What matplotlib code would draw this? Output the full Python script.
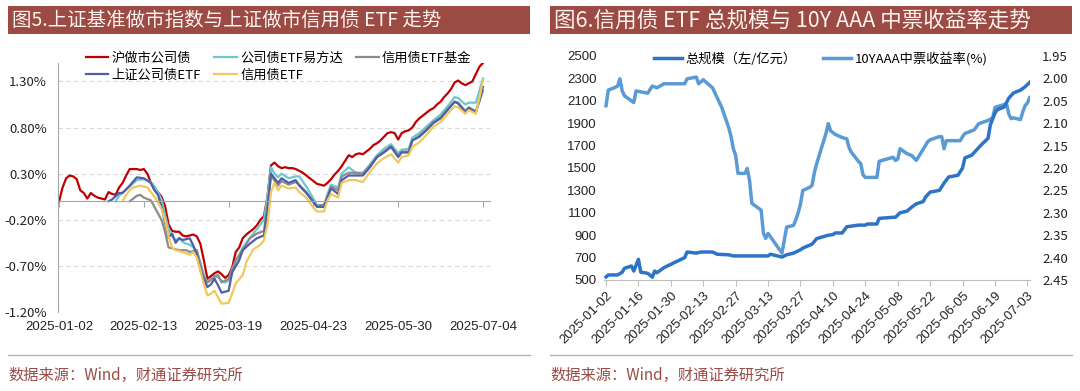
import numpy as np
import pandas as pd
import matplotlib
matplotlib.use('Agg')
import matplotlib.pyplot as plt
import matplotlib.transforms as mtransforms
from matplotlib.patches import Rectangle
from matplotlib.lines import Line2D

plt.rcParams['font.family'] = ['Noto Sans CJK SC', 'DejaVu Sans']

# ---------- 左图：上证基准做市指数与上证做市信用债ETF（交易日序号, 累计涨跌%） ----------
x_tick_pos = [0, 24, 48, 72, 96, 120]
x_tick_labels = ['2025-01-02', '2025-02-13', '2025-03-19', '2025-04-23', '2025-05-30', '2025-07-04']

red_pts = [(0, 0), (1, 0.15), (2, 0.25), (3, 0.28), (4, 0.27), (5, 0.24), (6, 0.12), (7, 0.09), (8, 0.03),
           (9, 0.09), (10, 0.06), (11, 0.04), (12, 0.03), (13, 0.02), (14, 0.1), (15, 0.08), (16, 0.07),
           (17, 0.15), (18, 0.2), (19, 0.28), (20, 0.35), (21, 0.35), (22, 0.35), (23, 0.34), (24, 0.35),
           (25, 0.3), (26, 0.2), (27, 0.13), (28, 0.1), (29, 0.05), (30, -0.05), (31, -0.25), (32, -0.32),
           (33, -0.33), (34, -0.33), (35, -0.37), (36, -0.38), (37, -0.37), (38, -0.36), (39, -0.38),
           (40, -0.46), (41, -0.64), (42, -0.84), (43, -0.81), (44, -0.78), (45, -0.76), (46, -0.79),
           (47, -0.83), (48, -0.8), (49, -0.72), (50, -0.55), (51, -0.5), (52, -0.4), (53, -0.36),
           (54, -0.33), (55, -0.3), (56, -0.26), (57, -0.2), (58, -0.16), (59, 0.05), (60, 0.39),
           (61, 0.42), (62, 0.38), (63, 0.36), (64, 0.37), (65, 0.36), (66, 0.36), (67, 0.35), (68, 0.33),
           (69, 0.31), (70, 0.28), (71, 0.25), (72, 0.22), (73, 0.19), (74, 0.18), (75, 0.17), (76, 0.2),
           (77, 0.24), (78, 0.29), (79, 0.33), (80, 0.38), (81, 0.44), (82, 0.5), (83, 0.48), (84, 0.51),
           (85, 0.52), (86, 0.51), (87, 0.54), (88, 0.57), (89, 0.61), (90, 0.63), (91, 0.66), (92, 0.7),
           (93, 0.74), (94, 0.75), (95, 0.74), (96, 0.67), (97, 0.74), (98, 0.76), (99, 0.77), (100, 0.8),
           (101, 0.86), (102, 0.9), (103, 0.93), (104, 0.96), (105, 0.99), (106, 1.01), (107, 1.05),
           (108, 1.08), (109, 1.13), (110, 1.17), (111, 1.22), (112, 1.29), (113, 1.31), (114, 1.28),
           (115, 1.26), (116, 1.28), (117, 1.3), (118, 1.38), (119, 1.46), (120, 1.5)]

cyan_pts = [(16, 0), (17, 0.06), (18, 0.1), (20, 0.16), (22, 0.23), (24, 0.24), (26, 0.21), (27, 0.16),
            (28, 0.1), (29, 0.02), (30, -0.15), (31, -0.3), (32, -0.38), (33, -0.42), (34, -0.4),
            (35, -0.44), (36, -0.46), (37, -0.47), (38, -0.5), (39, -0.55), (40, -0.66), (41, -0.8),
            (42, -0.88), (44, -0.83), (45, -0.82), (46, -0.86), (47, -0.88), (48, -0.86), (49, -0.78),
            (50, -0.66), (51, -0.58), (52, -0.5), (54, -0.4), (56, -0.3), (58, -0.2), (59, 0.05),
            (60, 0.37), (61, 0.3), (62, 0.26), (63, 0.3), (65, 0.25), (67, 0.27), (68, 0.27), (70, 0.16),
            (72, 0.03), (73, -0.04), (75, -0.04), (76, 0.08), (77, 0.18), (79, 0.15), (80, 0.3),
            (82, 0.37), (84, 0.31), (86, 0.31), (88, 0.4), (90, 0.5), (92, 0.57), (94, 0.62), (96, 0.52),
            (97, 0.56), (99, 0.57), (100, 0.69), (102, 0.74), (104, 0.81), (106, 0.88), (108, 0.94),
            (110, 1.03), (112, 1.13), (113, 1.12), (115, 1.05), (116, 1.07), (118, 1.07), (119, 1.2),
            (120, 1.33)]

gray_pts = [(20, 0), (21, 0.03), (22, 0.06), (23, 0.07), (24, 0.04), (26, 0.01), (27, -0.06), (28, -0.13),
            (29, -0.2), (30, -0.33), (31, -0.5), (32, -0.51), (34, -0.53), (36, -0.53), (37, -0.55),
            (39, -0.53), (40, -0.68), (41, -0.83), (42, -0.88), (44, -0.81), (45, -0.8), (46, -0.88),
            (48, -0.84), (49, -0.73), (50, -0.64), (52, -0.53), (54, -0.4), (56, -0.35), (58, -0.32),
            (59, -0.05), (60, 0.28), (62, 0.17), (63, 0.22), (65, 0.18), (67, 0.21), (68, 0.18), (70, 0.1),
            (72, 0.0), (73, -0.05), (75, -0.04), (76, 0.05), (77, 0.16), (79, 0.12), (80, 0.27), (82, 0.31),
            (84, 0.31), (86, 0.3), (88, 0.38), (90, 0.48), (92, 0.54), (94, 0.6), (96, 0.5), (97, 0.54),
            (99, 0.54), (100, 0.66), (102, 0.71), (104, 0.78), (106, 0.86), (108, 0.91), (110, 1.0),
            (112, 1.08), (113, 1.07), (115, 0.98), (116, 1.02), (118, 0.97), (119, 1.08), (120, 1.2)]

blue_pts = [(14, 0), (15, 0.02), (17, 0.09), (18, 0.09), (20, 0.17), (22, 0.26), (24, 0.25), (26, 0.2),
            (27, 0.12), (28, 0.07), (29, -0.06), (30, -0.23), (31, -0.39), (32, -0.35), (33, -0.45),
            (34, -0.4), (35, -0.42), (37, -0.4), (38, -0.48), (39, -0.57), (40, -0.75), (42, -0.93),
            (43, -0.9), (44, -0.84), (45, -0.91), (46, -0.99), (48, -0.97), (49, -0.77), (51, -0.64),
            (52, -0.53), (54, -0.46), (56, -0.4), (58, -0.37), (59, -0.1), (60, 0.3), (62, 0.2), (63, 0.25),
            (65, 0.2), (67, 0.23), (68, 0.17), (70, 0.09), (72, -0.01), (73, -0.06), (75, -0.06), (76, 0.04),
            (77, 0.14), (79, 0.08), (80, 0.23), (82, 0.28), (84, 0.28), (86, 0.28), (88, 0.37), (90, 0.48),
            (92, 0.53), (94, 0.59), (96, 0.48), (97, 0.53), (99, 0.53), (100, 0.66), (102, 0.7), (104, 0.77),
            (106, 0.85), (108, 0.9), (110, 0.99), (112, 1.08), (113, 1.06), (115, 0.97), (116, 1.01),
            (118, 0.97), (119, 1.1), (120, 1.24)]

yellow_pts = [(18, 0), (19, 0.07), (20, 0.12), (21, 0.15), (23, 0.17), (25, 0.15), (26, 0.1), (27, 0.05),
              (28, -0.01), (29, -0.08), (30, -0.2), (31, -0.38), (32, -0.5), (33, -0.53), (35, -0.55),
              (37, -0.58), (38, -0.55), (39, -0.61), (40, -0.75), (41, -0.9), (42, -1.02), (43, -1.0),
              (44, -0.97), (45, -1.04), (46, -1.11), (48, -1.1), (49, -1.0), (50, -0.89), (52, -0.8),
              (53, -0.66), (55, -0.52), (57, -0.47), (58, -0.42), (59, -0.25), (60, 0.1), (61, 0.2),
              (62, 0.12), (63, 0.17), (65, 0.14), (67, 0.15), (68, 0.1), (70, 0.04), (72, -0.07),
              (73, -0.11), (75, -0.11), (76, 0.01), (77, 0.08), (79, 0.04), (80, 0.2), (82, 0.23), (84, 0.23),
              (86, 0.21), (88, 0.32), (90, 0.41), (92, 0.47), (94, 0.51), (96, 0.42), (97, 0.48), (99, 0.5),
              (100, 0.59), (102, 0.64), (104, 0.72), (106, 0.81), (108, 0.86), (110, 0.95), (112, 1.03),
              (113, 1.02), (115, 0.95), (116, 0.99), (118, 0.95), (119, 1.12), (120, 1.31)]

left_y_ticks = [-1.2, -0.7, -0.2, 0.3, 0.8, 1.3]

# ---------- 右图：信用债ETF总规模（亿元）与10Y AAA中票收益率（%） ----------
scale_pts = [('2025-01-02', 527), ('2025-01-03', 545), ('2025-01-07', 545), ('2025-01-09', 570),
             ('2025-01-10', 605), ('2025-01-13', 625), ('2025-01-14', 580), ('2025-01-16', 685),
             ('2025-01-17', 570), ('2025-01-20', 560), ('2025-01-22', 525), ('2025-01-23', 580),
             ('2025-01-24', 565), ('2025-01-27', 610), ('2025-02-05', 700), ('2025-02-06', 750),
             ('2025-02-10', 740), ('2025-02-12', 750), ('2025-02-17', 750), ('2025-02-19', 730),
             ('2025-02-24', 725), ('2025-02-26', 715), ('2025-03-13', 715), ('2025-03-14', 730),
             ('2025-03-19', 705), ('2025-03-21', 725), ('2025-03-24', 740), ('2025-03-27', 770),
             ('2025-03-28', 785), ('2025-04-01', 820), ('2025-04-03', 870), ('2025-04-08', 900),
             ('2025-04-10', 905), ('2025-04-11', 920), ('2025-04-14', 920), ('2025-04-16', 975),
             ('2025-04-21', 990), ('2025-04-24', 990), ('2025-04-25', 1000), ('2025-04-29', 1000),
             ('2025-04-30', 1050), ('2025-05-06', 1060), ('2025-05-07', 1060), ('2025-05-09', 1100),
             ('2025-05-12', 1115), ('2025-05-14', 1150), ('2025-05-16', 1180), ('2025-05-19', 1200),
             ('2025-05-20', 1240), ('2025-05-22', 1285), ('2025-05-26', 1300), ('2025-05-28', 1365),
             ('2025-05-30', 1420), ('2025-06-03', 1435), ('2025-06-05', 1500), ('2025-06-06', 1590),
             ('2025-06-09', 1615), ('2025-06-11', 1660), ('2025-06-13', 1705), ('2025-06-16', 1765),
             ('2025-06-17', 1885), ('2025-06-19', 1990), ('2025-06-20', 2020), ('2025-06-23', 2045),
             ('2025-06-25', 2125), ('2025-06-27', 2170), ('2025-06-30', 2195), ('2025-07-02', 2225),
             ('2025-07-04', 2265)]

yield_pts = [('2025-01-02', 2.061), ('2025-01-03', 2.026), ('2025-01-06', 2.02), ('2025-01-07', 2.017),
             ('2025-01-08', 2.001), ('2025-01-09', 2.028), ('2025-01-10', 2.039), ('2025-01-13', 2.05),
             ('2025-01-14', 2.054), ('2025-01-15', 2.028), ('2025-01-17', 2.03), ('2025-01-20', 2.033),
             ('2025-01-22', 2.017), ('2025-01-24', 2.021), ('2025-01-27', 2.012), ('2025-02-05', 2.012),
             ('2025-02-06', 2.001), ('2025-02-10', 1.997), ('2025-02-11', 2.012), ('2025-02-13', 2.003),
             ('2025-02-17', 2.021), ('2025-02-19', 2.043), ('2025-02-21', 2.065), ('2025-02-24', 2.11),
             ('2025-02-25', 2.13), ('2025-02-26', 2.157), ('2025-02-27', 2.172), ('2025-02-28', 2.212),
             ('2025-03-03', 2.212), ('2025-03-04', 2.201), ('2025-03-05', 2.228), ('2025-03-06', 2.279),
             ('2025-03-10', 2.294), ('2025-03-11', 2.346), ('2025-03-12', 2.357), ('2025-03-13', 2.346),
             ('2025-03-19', 2.39), ('2025-03-21', 2.332), ('2025-03-24', 2.328), ('2025-03-25', 2.315),
             ('2025-03-26', 2.3), ('2025-03-27', 2.28), ('2025-03-28', 2.25), ('2025-03-31', 2.243),
             ('2025-04-01', 2.239), ('2025-04-02', 2.21), ('2025-04-03', 2.19), ('2025-04-07', 2.123),
             ('2025-04-08', 2.101), ('2025-04-09', 2.117), ('2025-04-10', 2.121), ('2025-04-11', 2.125),
             ('2025-04-14', 2.132), ('2025-04-16', 2.135), ('2025-04-17', 2.155), ('2025-04-18', 2.165),
             ('2025-04-21', 2.185), ('2025-04-22', 2.19), ('2025-04-23', 2.215), ('2025-04-24', 2.221),
             ('2025-04-29', 2.221), ('2025-04-30', 2.185), ('2025-05-06', 2.176), ('2025-05-07', 2.183),
             ('2025-05-08', 2.18), ('2025-05-09', 2.157), ('2025-05-12', 2.168), ('2025-05-14', 2.172),
             ('2025-05-16', 2.183), ('2025-05-19', 2.158), ('2025-05-21', 2.141), ('2025-05-22', 2.137),
             ('2025-05-26', 2.13), ('2025-05-27', 2.13), ('2025-05-28', 2.157), ('2025-05-29', 2.139),
             ('2025-06-04', 2.139), ('2025-06-05', 2.13), ('2025-06-06', 2.123), ('2025-06-10', 2.115),
             ('2025-06-12', 2.101), ('2025-06-16', 2.094), ('2025-06-18', 2.088), ('2025-06-19', 2.065),
             ('2025-06-20', 2.063), ('2025-06-24', 2.057), ('2025-06-25', 2.08), ('2025-06-26', 2.09),
             ('2025-06-27', 2.088), ('2025-06-30', 2.092), ('2025-07-01', 2.075), ('2025-07-02', 2.061),
             ('2025-07-03', 2.055), ('2025-07-04', 2.043)]

scale_ticks = list(range(500, 2501, 200))
yield_ticks = [1.95, 2.00, 2.05, 2.10, 2.15, 2.20, 2.25, 2.30, 2.35, 2.40, 2.45]

BAR = '#9B4A44'
W, H = 1080, 391


def fx(px):
    return px / W


def fy(py):
    return 1 - py / H


fig = plt.figure(figsize=(10.8, 3.91), dpi=100)

# 标题栏与脚注
for x0, x1, title, fs in [(8, 530, '图5.上证基准做市指数与上证做市信用债 ETF 走势', 14.0),
                          (550, 1072, '图6.信用债 ETF 总规模与 10Y AAA 中票收益率走势', 15.5)]:
    fig.add_artist(Rectangle((fx(x0), fy(34)), (x1 - x0) / W, 28 / H, transform=fig.transFigure,
                             facecolor=BAR, edgecolor='none'))
    fig.text(fx(x0 + 4), fy(20.5), title, color='#FFF4F0', fontsize=fs, va='center', ha='left')
    fig.add_artist(Line2D([fx(x0), fx(x1)], [fy(355), fy(355)], transform=fig.transFigure,
                          color='#CFA09C', lw=0.9))
    fig.text(fx(x0), fy(375), '数据来源：Wind，财通证券研究所', color=BAR, fontsize=11,
             va='center', ha='left')

# ---------- 左图 ----------
ax1 = fig.add_axes([fx(58), fy(312), 432 / W, 249 / H])
series = [('沪做市公司债', red_pts, '#C00000'),
          ('公司债ETF易方达', cyan_pts, '#6CC8CC'),
          ('信用债ETF基金', gray_pts, '#8C8C8C'),
          ('上证公司债ETF', blue_pts, '#4F5FA3'),
          ('信用债ETF', yellow_pts, '#F2C75C')]
handles = {}
for name, pts, col in series:
    xs, ys = zip(*pts)
    handles[name], = ax1.plot(xs, ys, color=col, lw=1.6, label=name, solid_joinstyle='round')

ax1.set_xlim(-0.3, 122)
ax1.set_ylim(-1.2, 1.5)
ax1.set_yticks(left_y_ticks)
ax1.set_yticklabels([f'{v:.2f}%' for v in left_y_ticks])
ax1.yaxis.grid(True, ls=(0, (4, 3)), color='#D9D9D9', lw=0.8)
ax1.set_axisbelow(True)
for s in ['top', 'right']:
    ax1.spines[s].set_visible(False)
ax1.spines['left'].set_color('#A6A6A6')
ax1.spines['bottom'].set_color('#A6A6A6')
ax1.spines['bottom'].set_position(('data', 0))
ax1.tick_params(axis='y', length=0, pad=8, labelsize=9.5, labelcolor='#222222')
ax1.set_xticks(x_tick_pos)
ax1.tick_params(axis='x', direction='out', length=4, color='#A6A6A6', labelbottom=False)
trans = mtransforms.blended_transform_factory(ax1.transData, ax1.transAxes)
for p, lab in zip(x_tick_pos, x_tick_labels):
    ax1.text(p, -0.035, lab, transform=trans, ha='center', va='top', fontsize=9.5,
             family='Liberation Sans', color='#222222')

order = ['沪做市公司债', '上证公司债ETF', '公司债ETF易方达', '信用债ETF', '信用债ETF基金']
fig.legend([handles[n] for n in order], order, loc='upper left', bbox_to_anchor=(fx(86), fy(52)),
           ncol=3, frameon=False, fontsize=9.5, handlelength=1.7, handletextpad=0.25,
           columnspacing=1.0, labelspacing=0.3, borderaxespad=0, borderpad=0)

# ---------- 右图 ----------
axR = fig.add_axes([fx(603.7), fy(280), 426 / W, 224 / H])
axR2 = axR.twinx()
d1, v1 = zip(*scale_pts)
d2, v2 = zip(*yield_pts)
l1, = axR.plot(pd.to_datetime(d1), v1, color='#2E74C6', lw=2.5, label='总规模（左/亿元）')
l2, = axR2.plot(pd.to_datetime(d2), v2, color='#5B9BD5', lw=2.5, label='10YAAA中票收益率(%)')
axR.set_zorder(axR2.get_zorder() + 1)
axR.patch.set_visible(False)

axR.set_xlim(pd.Timestamp('2025-01-01'), pd.Timestamp('2025-07-04'))
axR.set_ylim(500, 2500)
axR.set_yticks(scale_ticks)
axR.set_yticklabels([str(v) for v in scale_ticks], family='Liberation Sans')
axR2.set_ylim(2.45, 1.95)
axR2.set_yticks(yield_ticks)
axR2.set_yticklabels([f'{v:.2f}' for v in yield_ticks])
xt = pd.date_range('2025-01-02', '2025-07-03', freq='14D')
axR.set_xticks(xt)
axR.set_xticklabels([d.strftime('%Y-%m-%d') for d in xt], rotation=45, ha='right', va='top',
                    rotation_mode='anchor', family='Liberation Sans', fontsize=9.5)
for a in (axR, axR2):
    for s in ['top', 'left', 'right']:
        a.spines[s].set_visible(False)
axR2.spines['bottom'].set_visible(False)
axR.spines['bottom'].set_color('#BFBFBF')
axR.tick_params(axis='y', length=0, pad=5, labelsize=9.5, labelcolor='#222222')
axR2.tick_params(axis='y', length=0, pad=9, labelsize=9.5, labelcolor='#222222')
axR.tick_params(axis='x', direction='out', length=4, color='#BFBFBF', pad=3, labelcolor='#222222')

fig.legend([l1, l2], [l1.get_label(), l2.get_label()], loc='upper left',
           bbox_to_anchor=(fx(654), fy(52)), ncol=2, frameon=False, fontsize=9.5,
           handlelength=2.1, handletextpad=0.3, columnspacing=2.0, borderaxespad=0, borderpad=0)

fig.savefig('out.png', dpi=100)
